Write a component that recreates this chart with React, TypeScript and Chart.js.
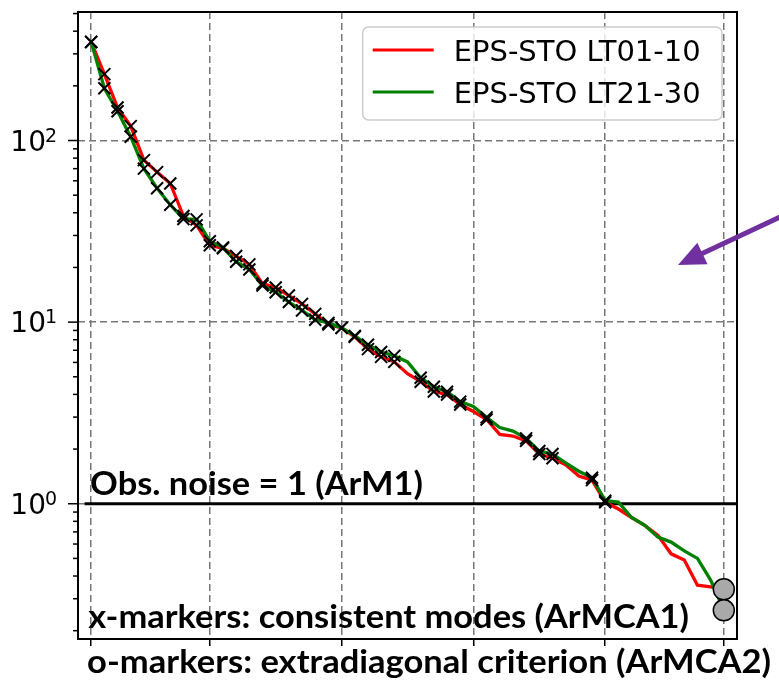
import React, { useEffect, useRef } from "react";
import { Chart, registerables } from "chart.js";

Chart.register(...registerables);

// ---------- data ----------
const modeIndex = [
  1, 2, 3, 4, 5, 6, 7, 8, 9, 10, 11, 12, 13, 14, 15, 16, 17, 18, 19, 20, 21, 22, 23, 24, 25,
  26, 27, 28, 29, 30, 31, 32, 33, 34, 35, 36, 37, 38, 39, 40, 41, 42, 43, 44, 45, 46, 47, 48, 49,
];
const redValues = [
  349, 232, 152, 120, 78, 67, 58, 38.4, 34.1, 26.5, 25.5, 23.1, 20.8, 16.3, 15.5, 14, 12.6, 11.1,
  9.7, 9.3, 8.3, 7.1, 6.44, 6.04, 5.2, 4.7, 4.15, 3.99, 3.52, 3.22, 2.91, 2.41, 2.36, 2.22, 1.88,
  1.78, 1.64, 1.42, 1.35, 1.02, 0.935, 0.84, 0.76, 0.67, 0.53, 0.49, 0.356, 0.349, 0.34,
];
const greenValues = [
  349, 194, 145, 105, 70, 54.6, 44.3, 37, 36.8, 27.9, 25.8, 21.5, 19.5, 15.9, 14.6, 12.9, 11.6,
  10.3, 9.9, 9.3, 8.4, 7.5, 6.85, 6.52, 6.04, 4.94, 4.41, 4.14, 3.65, 3.43, 2.99, 2.63, 2.51, 2.29,
  1.95, 1.88, 1.68, 1.51, 1.39, 1.04, 1.02, 0.84, 0.76, 0.655, 0.615, 0.55, 0.5, 0.38, 0.26,
];
const consistentModes = [
  1, 2, 3, 4, 5, 6, 7, 8, 9, 10, 11, 12, 13, 14, 15, 16, 17, 18, 19, 20, 21, 22, 23, 24, 26, 27,
  28, 29, 31, 34, 35, 36, 39, 40,
];
const extradiagMode = 49;
const extradiagValues = [0.338, 0.259];
const noiseLevel = 1;
const xGridTicks = [1, 10, 20, 30, 40, 49];
const yAllTicks = [
  0.2, 0.3, 0.4, 0.5, 0.6, 0.7, 0.8, 0.9, 1, 2, 3, 4, 5, 6, 7, 8, 9, 10, 20, 30, 40, 50, 60, 70,
  80, 90, 100, 200, 300, 400, 500,
];
const yMajorTicks = [1, 10, 100];
const seriesLabels = ["EPS-STO LT01-10", "EPS-STO LT21-30"];
const seriesColors = ["#ff0000", "#008000"];
const noiseText = "Obs. noise = 1 (ArM1)";
const xMarkerText = "x-markers: consistent modes (ArMCA1)";
const oMarkerText = "o-markers: extradiagonal criterion (ArMCA2)";

const TICK_FONT = '"DejaVu Sans", sans-serif';
const NOTE_FONT = 'bold 32px Lato, "Open Sans", sans-serif';

function drawFitted(ctx: CanvasRenderingContext2D, text: string, x: number, y: number, targetW: number) {
  ctx.save();
  ctx.font = NOTE_FONT;
  ctx.textAlign = "left";
  ctx.textBaseline = "alphabetic";
  const m = ctx.measureText(text);
  const w = m.actualBoundingBoxRight + m.actualBoundingBoxLeft;
  const s = targetW / w;
  ctx.translate(x, y);
  ctx.scale(s, 1);
  ctx.fillStyle = "#000";
  ctx.fillText(text, m.actualBoundingBoxLeft, 0);
  ctx.restore();
}

const overlayPlugin = {
  id: "overlay",
  afterDraw(chart: any) {
    const ctx: CanvasRenderingContext2D = chart.ctx;
    const { left, right, top, bottom } = chart.chartArea;
    const xs = chart.scales.x;
    const ys = chart.scales.y;

    // frame
    ctx.save();
    ctx.strokeStyle = "#000";
    ctx.lineWidth = 2;
    ctx.strokeRect(left, top, right - left, bottom - top);

    // y ticks and labels
    ctx.lineWidth = 1.5;
    for (const v of yAllTicks) {
      const y = ys.getPixelForValue(v);
      if (y < top - 0.5 || y > bottom + 0.5) continue;
      const major = yMajorTicks.includes(v);
      const len = major ? 10 : 5;
      ctx.beginPath();
      ctx.moveTo(left - len, y);
      ctx.lineTo(left, y);
      ctx.stroke();
      if (major) {
        const exp = Math.round(Math.log10(v));
        ctx.fillStyle = "#000";
        ctx.textBaseline = "alphabetic";
        ctx.font = `28px ${TICK_FONT}`;
        ctx.textAlign = "right";
        ctx.fillText("10", left - 32, y + 10);
        ctx.font = `19px ${TICK_FONT}`;
        ctx.textAlign = "left";
        ctx.fillText(String(exp), left - 33, y + 1);
      }
    }
    ctx.restore();

    // legend
    ctx.save();
    const lx0 = xs.getPixelForValue(21.6);
    const lx1 = right - 15;
    const ly0 = top + 15;
    const ly1 = top + 108;
    ctx.beginPath();
    (ctx as any).roundRect(lx0, ly0, lx1 - lx0, ly1 - ly0, 6);
    ctx.fillStyle = "rgba(255,255,255,0.8)";
    ctx.fill();
    ctx.strokeStyle = "#cccccc";
    ctx.lineWidth = 1.5;
    ctx.stroke();
    seriesLabels.forEach((lab, i) => {
      const yy = ly0 + 23 + i * 42;
      ctx.strokeStyle = seriesColors[i];
      ctx.lineWidth = 3;
      ctx.beginPath();
      ctx.moveTo(lx0 + 10, yy);
      ctx.lineTo(lx0 + 71, yy);
      ctx.stroke();
      ctx.fillStyle = "#000";
      ctx.font = `29px ${TICK_FONT}`;
      ctx.textAlign = "left";
      ctx.textBaseline = "alphabetic";
      ctx.fillText(lab, lx0 + 91, yy + 11);
    });
    ctx.restore();

    // annotations
    const xStart = xs.getPixelForValue(1);
    drawFitted(ctx, noiseText, xStart, ys.getPixelForValue(noiseLevel) - 9, 331);
    drawFitted(ctx, xMarkerText, xStart - 3, bottom - 11, 600);
    drawFitted(ctx, oMarkerText, xStart - 3, bottom + 34, 682);

    // purple arrow
    ctx.save();
    const sx = chart.width + 3;
    const sy = 216;
    const tx = 678;
    const ty = 265;
    const dx = tx - sx;
    const dy = ty - sy;
    const L = Math.hypot(dx, dy);
    const ux = dx / L;
    const uy = dy / L;
    const headL = 27;
    const headW = 12;
    const bx = tx - ux * headL;
    const by = ty - uy * headL;
    ctx.strokeStyle = "#7030a0";
    ctx.fillStyle = "#7030a0";
    ctx.lineWidth = 5;
    ctx.beginPath();
    ctx.moveTo(sx, sy);
    ctx.lineTo(bx + ux * 2, by + uy * 2);
    ctx.stroke();
    ctx.beginPath();
    ctx.moveTo(tx, ty);
    ctx.lineTo(bx - uy * headW, by + ux * headW);
    ctx.lineTo(bx + uy * headW, by - ux * headW);
    ctx.closePath();
    ctx.fill();
    ctx.restore();
  },
};

export default function App() {
  const canvasRef = useRef<HTMLCanvasElement | null>(null);

  useEffect(() => {
    const canvas = canvasRef.current;
    if (!canvas) return;

    const redPts = modeIndex.map((m, i) => ({ x: m, y: redValues[i] }));
    const greenPts = modeIndex.map((m, i) => ({ x: m, y: greenValues[i] }));
    const redCross = consistentModes.map((m) => ({ x: m, y: redValues[modeIndex.indexOf(m)] }));
    const greenCross = consistentModes.map((m) => ({ x: m, y: greenValues[modeIndex.indexOf(m)] }));
    const circles = extradiagValues.map((v) => ({ x: extradiagMode, y: v }));

    const chart = new Chart(canvas, {
      type: "line",
      data: {
        datasets: [
          {
            label: "extradiagonal",
            data: circles,
            showLine: false,
            pointStyle: "circle",
            pointRadius: 10.5,
            pointBackgroundColor: "#a9a9a9",
            pointBorderColor: "#000",
            pointBorderWidth: 1.5,
            order: 0,
          },
          {
            label: "cross-red",
            data: redCross,
            showLine: false,
            pointStyle: "crossRot",
            pointRadius: 8.5,
            pointBorderColor: "#000",
            pointBorderWidth: 2,
            order: 1,
          },
          {
            label: "cross-green",
            data: greenCross,
            showLine: false,
            pointStyle: "crossRot",
            pointRadius: 8.5,
            pointBorderColor: "#000",
            pointBorderWidth: 2,
            order: 1,
          },
          {
            label: seriesLabels[1],
            data: greenPts,
            borderColor: seriesColors[1],
            borderWidth: 3.3,
            pointRadius: 0,
            tension: 0,
            order: 2,
          },
          {
            label: seriesLabels[0],
            data: redPts,
            borderColor: seriesColors[0],
            borderWidth: 3.3,
            pointRadius: 0,
            tension: 0,
            order: 3,
          },
          {
            label: "noise",
            data: [
              { x: 0.5, y: noiseLevel },
              { x: 50, y: noiseLevel },
            ],
            borderColor: "#000",
            borderWidth: 3,
            pointRadius: 0,
            order: 4,
          },
        ],
      },
      options: {
        animation: false,
        responsive: false,
        maintainAspectRatio: false,
        events: [],
        layout: { padding: { left: 0, top: 9, right: 42, bottom: 0 } },
        plugins: {
          legend: { display: false },
          tooltip: { enabled: false },
        },
        scales: {
          x: {
            type: "linear",
            min: 0,
            max: 50,
            afterBuildTicks: (scale: any) => {
              scale.ticks = xGridTicks.map((v) => ({ value: v }));
            },
            afterFit: (scale: any) => {
              scale.height = 44;
            },
            ticks: { display: false },
            grid: {
              color: "#777777",
              lineWidth: 1.5,
              drawTicks: true,
              tickLength: 7,
              tickColor: "#000",
              tickWidth: 1.5,
            },
            border: { display: false, dash: [7, 4] },
          },
          y: {
            type: "logarithmic",
            min: 0.18,
            max: 510,
            afterBuildTicks: (scale: any) => {
              scale.ticks = yAllTicks.map((v) => ({ value: v }));
            },
            afterFit: (scale: any) => {
              scale.width = 78;
            },
            ticks: { display: false },
            grid: {
              color: (c: any) =>
                c.tick && yMajorTicks.includes(c.tick.value) ? "#777777" : "rgba(0,0,0,0)",
              lineWidth: 1.5,
              drawTicks: false,
            },
            border: { display: false, dash: [7, 4] },
          },
        },
      },
      plugins: [overlayPlugin],
    } as any);

    return () => chart.destroy();
  }, []);

  return (
    <div style={{ position: "fixed", left: 0, top: 0, width: 779, height: 683, background: "#fff" }}>
      <canvas ref={canvasRef} width={779} height={683} style={{ display: "block" }} />
    </div>
  );
}
